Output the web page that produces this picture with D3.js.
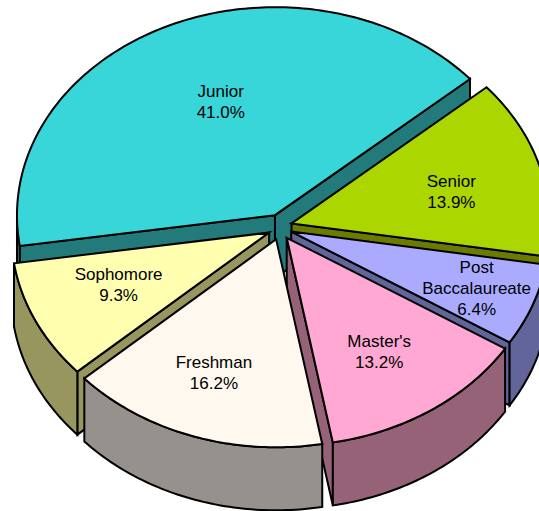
<!DOCTYPE html>
<html>
<head>
<meta charset="utf-8">
<style>
  html, body { margin: 0; padding: 0; background: #fff; }
  svg { display: block; }
  text { font-family: "Liberation Sans", Arial, sans-serif; font-size: 17px; fill: #000; }
</style>
<script src="https://d3js.org/d3.v7.min.js"></script>
</head>
<body>
<div id="chart"></div>
<script>
// data
const categories = ["Junior", "Senior", "Post Baccalaureate", "Master's", "Freshman", "Sophomore"];
const percents = [41.0, 13.9, 6.4, 13.2, 16.2, 9.3];
const labelLines = [["Junior"], ["Senior"], ["Post", "Baccalaureate"], ["Master's"], ["Freshman"], ["Sophomore"]];

// colours, top face and side wall
const topColors = ["#38d6d9", "#acd600", "#aaaaff", "#ffa8d4", "#fff8ee", "#ffffaf"];
const sideColors = ["#227a7b", "#6a7b00", "#62659a", "#956278", "#96918d", "#98965f"];
// how far out along the slice each label sits
const labelOutX = [0.503, 0.644, 0.768, 0.64, 0.746, 0.645];
const labelOutY = [0.598, 0.55, 0.78, 0.663, 0.68, 0.59];

const width = 539, height = 511;
const cx = 280, cy = 227;
const rx = 258, ry = 208;
const depth = 63;
const explodeX = 12, explodeY = 13;
const rad = Math.PI / 180;
const firstAngle = -98.5 * rad;

const svg = d3.select("#chart").append("svg").attr("width", width).attr("height", height);

const pie = d3.pie().sort(null).startAngle(firstAngle).endAngle(firstAngle + 2 * Math.PI);
const slices = pie(percents).map(function (d, i) {
  const mid = (d.startAngle + d.endAngle) / 2;
  return {
    i: i,
    start: d.startAngle,
    end: d.endAngle,
    mid: mid,
    ax: cx + explodeX * Math.sin(mid),
    ay: cy - explodeY * Math.cos(mid)
  };
});

// back slices first
slices.sort(function (a, b) { return Math.cos(b.mid) - Math.cos(a.mid); });

const line = d3.line();

function rim(s, a, drop) {
  return [s.ax + rx * Math.sin(a), s.ay - ry * Math.cos(a) + drop];
}
function arcPoints(s, a0, a1, drop) {
  const n = Math.max(2, Math.ceil(Math.abs(a1 - a0) / rad));
  return d3.range(n + 1).map(function (k) { return rim(s, a0 + (a1 - a0) * k / n, drop); });
}
// parts of the rim that face the viewer (lower half of the ellipse)
function frontRanges(s) {
  const out = [];
  [-1, 0, 1].forEach(function (turn) {
    const lo = Math.max(s.start, Math.PI / 2 + turn * 2 * Math.PI);
    const hi = Math.min(s.end, 3 * Math.PI / 2 + turn * 2 * Math.PI);
    if (lo < hi) out.push([lo, hi]);
  });
  return out;
}

const groups = svg.selectAll("g.slice").data(slices).enter().append("g").attr("class", "slice");

groups.each(function (s) {
  const g = d3.select(this);
  const style = function (sel, fill) {
    return sel.attr("fill", fill).attr("stroke", "#000").attr("stroke-width", 2).attr("stroke-linejoin", "miter");
  };
  // radial walls, only the ones turned to the viewer
  const walls = [];
  if (Math.sin(s.start) < 0) walls.push(s.start);
  if (Math.sin(s.end) > 0) walls.push(s.end);
  walls.forEach(function (a) {
    const p = rim(s, a, 0), q = rim(s, a, depth);
    style(g.append("path"), sideColors[s.i])
      .attr("d", line([[s.ax, s.ay], p, q, [s.ax, s.ay + depth]]) + "Z");
  });
  // rim wall
  frontRanges(s).forEach(function (r) {
    const pts = arcPoints(s, r[0], r[1], 0).concat(arcPoints(s, r[1], r[0], depth));
    style(g.append("path"), sideColors[s.i]).attr("d", line(pts) + "Z");
  });
  // top
  style(g.append("path"), topColors[s.i])
    .attr("d", line([[s.ax, s.ay]].concat(arcPoints(s, s.start, s.end, 0))) + "Z");
});

// labels go on top of every slice
slices.forEach(function (s) {
  const x = s.ax + labelOutX[s.i] * rx * Math.sin(s.mid);
  const y = s.ay - labelOutY[s.i] * ry * Math.cos(s.mid);
  const rows = labelLines[s.i].concat([percents[s.i].toFixed(1) + "%"]);
  const t = svg.append("text").attr("text-anchor", "middle");
  rows.forEach(function (row, k) {
    t.append("tspan")
      .attr("x", x)
      .attr("y", y + 5.5 + (k - (rows.length - 1) / 2) * 21)
      .text(row);
  });
});
</script>
</body>
</html>
